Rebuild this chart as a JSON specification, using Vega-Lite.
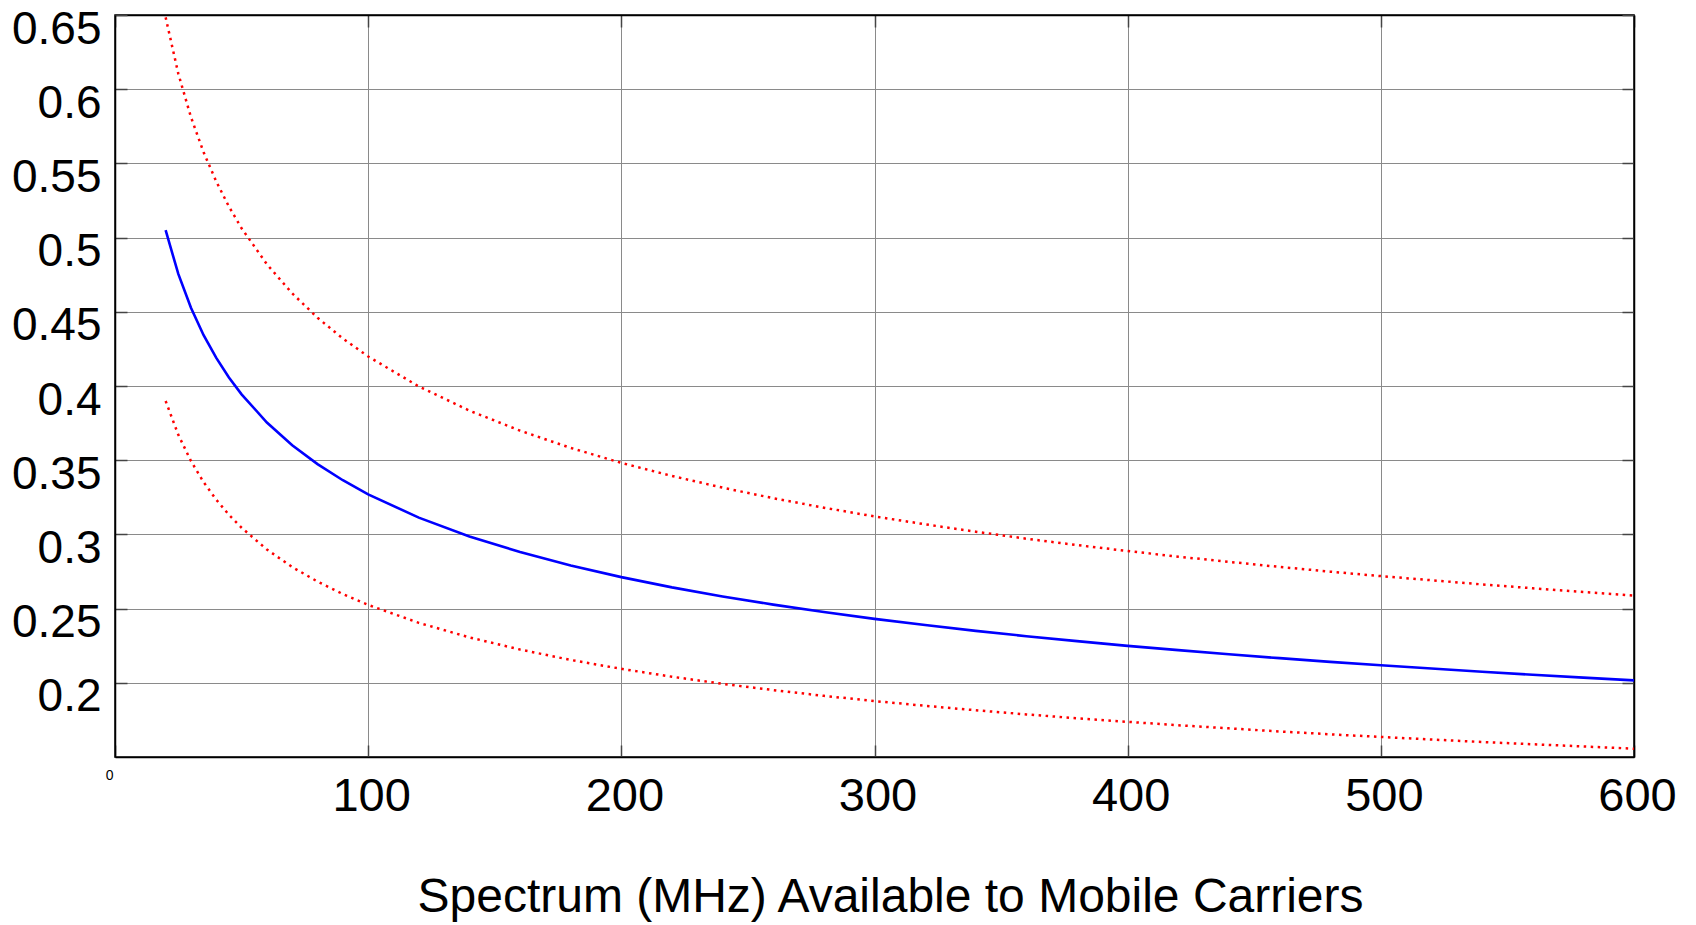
{
  "$schema": "https://vega.github.io/schema/vega-lite/v6.json",
  "autosize": "none",
  "width": 1519,
  "height": 742,
  "padding": {"left": 115, "top": 15, "right": 62, "bottom": 168},
  "background": "white",
  "config": {
    "view": {"stroke": "black", "strokeWidth": 1.5},
    "font": "Liberation Sans"
  },
  "data": {
    "values": [
      {"x": 20, "hi": 0.6484, "mid": 0.505, "lo": 0.3899},
      {"x": 25, "hi": 0.6105, "mid": 0.4755, "lo": 0.3671},
      {"x": 30, "hi": 0.5812, "mid": 0.4527, "lo": 0.3495},
      {"x": 35, "hi": 0.5575, "mid": 0.4342, "lo": 0.3352},
      {"x": 40, "hi": 0.5378, "mid": 0.4189, "lo": 0.3234},
      {"x": 45, "hi": 0.5209, "mid": 0.4057, "lo": 0.3132},
      {"x": 50, "hi": 0.5063, "mid": 0.3944, "lo": 0.3045},
      {"x": 60, "hi": 0.482, "mid": 0.3754, "lo": 0.2898},
      {"x": 70, "hi": 0.4624, "mid": 0.3601, "lo": 0.278},
      {"x": 80, "hi": 0.446, "mid": 0.3474, "lo": 0.2682},
      {"x": 90, "hi": 0.432, "mid": 0.3365, "lo": 0.2598},
      {"x": 100, "hi": 0.4199, "mid": 0.327, "lo": 0.2525},
      {"x": 120, "hi": 0.3997, "mid": 0.3113, "lo": 0.2404},
      {"x": 140, "hi": 0.3834, "mid": 0.2986, "lo": 0.2306},
      {"x": 160, "hi": 0.3699, "mid": 0.2881, "lo": 0.2224},
      {"x": 180, "hi": 0.3583, "mid": 0.279, "lo": 0.2154},
      {"x": 200, "hi": 0.3482, "mid": 0.2712, "lo": 0.2094},
      {"x": 220, "hi": 0.3394, "mid": 0.2643, "lo": 0.2041},
      {"x": 240, "hi": 0.3315, "mid": 0.2582, "lo": 0.1993},
      {"x": 260, "hi": 0.3244, "mid": 0.2527, "lo": 0.1951},
      {"x": 280, "hi": 0.318, "mid": 0.2477, "lo": 0.1912},
      {"x": 300, "hi": 0.3121, "mid": 0.2431, "lo": 0.1877},
      {"x": 320, "hi": 0.3068, "mid": 0.2389, "lo": 0.1845},
      {"x": 340, "hi": 0.3018, "mid": 0.235, "lo": 0.1815},
      {"x": 360, "hi": 0.2971, "mid": 0.2314, "lo": 0.1787},
      {"x": 380, "hi": 0.2928, "mid": 0.2281, "lo": 0.1761},
      {"x": 400, "hi": 0.2888, "mid": 0.2249, "lo": 0.1737},
      {"x": 420, "hi": 0.285, "mid": 0.222, "lo": 0.1714},
      {"x": 440, "hi": 0.2815, "mid": 0.2192, "lo": 0.1693},
      {"x": 460, "hi": 0.2781, "mid": 0.2166, "lo": 0.1672},
      {"x": 480, "hi": 0.2749, "mid": 0.2141, "lo": 0.1653},
      {"x": 500, "hi": 0.2719, "mid": 0.2118, "lo": 0.1635},
      {"x": 520, "hi": 0.2691, "mid": 0.2096, "lo": 0.1618},
      {"x": 540, "hi": 0.2663, "mid": 0.2074, "lo": 0.1601},
      {"x": 560, "hi": 0.2637, "mid": 0.2054, "lo": 0.1586},
      {"x": 580, "hi": 0.2612, "mid": 0.2035, "lo": 0.1571},
      {"x": 600, "hi": 0.2588, "mid": 0.2016, "lo": 0.1556}
    ]
  },
  "layer": [
    {
      "mark": {"type": "line", "color": "#0000ff", "strokeWidth": 2.6, "clip": true},
      "encoding": {
        "x": {
          "field": "x", "type": "quantitative",
          "scale": {"domain": [0, 600], "nice": false, "zero": false},
          "axis": {
            "orient": "bottom",
            "values": [0, 100, 200, 300, 400, 500, 600],
            "format": "d",
            "grid": true, "gridColor": "#8a8a8a", "gridWidth": 1,
            "domain": true, "domainColor": "black", "domainWidth": 1.5,
            "ticks": true, "tickSize": -12, "tickColor": "#444444", "tickWidth": 1.5,
            "labelFont": "Liberation Sans",
            "labelFontSize": {"condition": {"test": "datum.value === 0", "value": 14}, "value": 47},
            "labelAlign": {"condition": {"test": "datum.value === 0", "value": "right"}, "value": "center"},
            "labelOffset": {"condition": {"test": "datum.value === 0", "value": -2}, "value": 3},
            "labelPadding": {"condition": {"test": "datum.value === 0", "value": 23}, "value": 28},
            "labelColor": "black",
            "labelFlush": false,
            "labelOverlap": false,
            "title": "Spectrum (MHz) Available to Mobile Carriers",
            "titleFont": "Liberation Sans",
            "titleFontSize": 48,
            "titleFontWeight": "normal",
            "titleColor": "black",
            "titleX": 775,
            "titleY": 154,
            "titleAlign": "center",
            "titleBaseline": "alphabetic"
          }
        },
        "y": {
          "field": "mid", "type": "quantitative",
          "scale": {"domain": [0.15, 0.65], "nice": false, "zero": false},
          "axis": {
            "orient": "left",
            "values": [0.2, 0.25, 0.3, 0.35, 0.4, 0.45, 0.5, 0.55, 0.6, 0.65],
            "format": "~g",
            "grid": true, "gridColor": "#8a8a8a", "gridWidth": 1,
            "domain": true, "domainColor": "black", "domainWidth": 1.5,
            "ticks": true, "tickSize": -12, "tickColor": "#444444", "tickWidth": 1.5,
            "labelFont": "Liberation Sans",
            "labelFontSize": 46,
            "labelColor": "black",
            "labelPadding": 26,
            "labelOffset": 14,
            "labelFlush": false,
            "labelOverlap": false,
            "title": null
          }
        }
      }
    },
    {
      "mark": {"type": "line", "color": "#ff0000", "strokeWidth": 2.5, "strokeDash": [2.5, 4.5], "clip": true},
      "encoding": {
        "x": {"field": "x", "type": "quantitative", "axis": null},
        "y": {"field": "hi", "type": "quantitative", "axis": null}
      }
    },
    {
      "mark": {"type": "line", "color": "#ff0000", "strokeWidth": 2.5, "strokeDash": [2.5, 4.5], "clip": true},
      "encoding": {
        "x": {"field": "x", "type": "quantitative", "axis": null},
        "y": {"field": "lo", "type": "quantitative", "axis": null}
      }
    },
    {
      "mark": {"type": "line", "opacity": 0, "clip": true},
      "encoding": {
        "x": {
          "field": "x", "type": "quantitative",
          "axis": {
            "orient": "top",
            "values": [0, 100, 200, 300, 400, 500, 600],
            "grid": false, "labels": false, "title": null,
            "domain": true, "domainColor": "black", "domainWidth": 1.5,
            "ticks": true, "tickSize": -12, "tickColor": "#444444", "tickWidth": 1.5
          }
        },
        "y": {
          "field": "mid", "type": "quantitative",
          "axis": {
            "orient": "right",
            "values": [0.2, 0.25, 0.3, 0.35, 0.4, 0.45, 0.5, 0.55, 0.6, 0.65],
            "grid": false, "labels": false, "title": null,
            "domain": true, "domainColor": "black", "domainWidth": 1.5,
            "ticks": true, "tickSize": -12, "tickColor": "#444444", "tickWidth": 1.5
          }
        }
      }
    }
  ],
  "resolve": {"axis": {"x": "independent", "y": "independent"}}
}
